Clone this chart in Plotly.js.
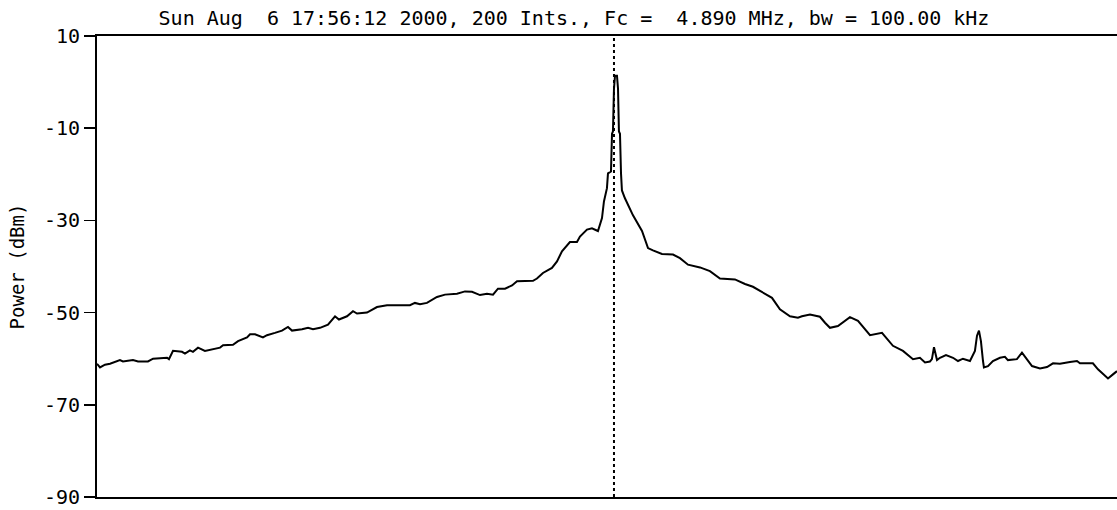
<!DOCTYPE html>
<html>
<head>
<meta charset="utf-8">
<script src="https://cdn.plot.ly/plotly-3.0.1.min.js"></script>
<style>html,body{margin:0;padding:0;background:#fff;}#chart{width:1117px;height:510px;}</style>
</head>
<body>
<div id="chart"></div>
<script>
// Frequency offset from Fc (kHz) and measured power (dBm)
const freqOffsetKHz = [
  -50.00, -49.71, -49.23, -48.74, -47.78, -47.49, -46.52, -46.03, -45.07, -44.58,
  -43.23, -43.04, -42.65, -41.78, -41.49, -41.01, -40.72, -40.23, -39.56, -38.78,
  -38.10, -37.81, -36.85, -36.36, -35.49, -35.20, -34.72, -33.95, -33.56, -32.79,
  -32.11, -31.53, -31.14, -30.17, -29.59, -29.11, -28.43, -27.66, -26.98, -26.60,
  -25.82, -25.24, -24.85, -23.89, -22.92, -21.95, -19.73, -19.25, -18.76, -18.09,
  -17.12, -16.34, -15.18, -14.41, -13.73, -12.96, -12.28, -11.70, -11.22, -10.54,
  -9.86, -9.38, -7.83, -7.45, -6.87, -6.00, -5.51, -5.03, -4.26, -3.58,
  -3.29, -2.61, -2.13, -1.55, -1.16, -0.97, -0.68, -0.58, -0.29, -0.19,
  -0.10, 0.00, 0.10, 0.29, 0.39, 0.48, 0.58, 0.68, 0.77, 1.06,
  1.84, 2.71, 3.29, 3.77, 4.64, 5.71, 6.38, 7.16, 8.32, 9.28,
  10.25, 11.70, 12.67, 13.44, 14.41, 15.28, 16.05, 17.02, 17.79, 18.18,
  18.96, 19.92, 20.41, 20.89, 21.66, 22.82, 23.60, 24.76, 25.92, 26.98,
  27.95, 28.92, 29.59, 30.08, 30.56, 30.75, 30.95, 31.24, 31.53, 32.11,
  32.79, 33.27, 33.75, 34.43, 34.91, 35.11, 35.30, 35.49, 35.69, 35.78,
  36.17, 36.65, 37.33, 37.81, 38.10, 38.97, 39.46, 39.94, 40.43, 41.20,
  41.88, 42.46, 43.13, 44.10, 44.78, 45.07, 46.32, 46.81, 47.29, 47.78,
  48.26, 48.65
];
const powerDbm = [
  -61.1, -61.9, -61.3, -61.1, -60.3, -60.6, -60.3, -60.6, -60.6, -60.0,
  -59.8, -60.1, -58.3, -58.5, -58.9, -58.2, -58.5, -57.6, -58.3, -58.0,
  -57.6, -57.1, -57.0, -56.2, -55.4, -54.7, -54.7, -55.4, -54.9, -54.4,
  -53.9, -53.1, -53.9, -53.6, -53.3, -53.6, -53.3, -52.6, -50.8, -51.5,
  -50.8, -49.7, -50.2, -50.0, -48.8, -48.4, -48.4, -47.9, -48.2, -47.9,
  -46.6, -46.1, -45.9, -45.4, -45.5, -46.2, -45.9, -46.1, -44.8, -44.8,
  -44.1, -43.2, -43.1, -42.6, -41.4, -40.3, -38.9, -36.7, -34.7, -34.7,
  -33.5, -32.0, -31.7, -32.3, -29.5, -25.9, -23.0, -19.8, -19.4, -11.2,
  -10.7, -1.4, 1.4, 1.4, -1.4, -10.7, -11.2, -19.8, -23.5, -25.2,
  -28.9, -32.3, -36.0, -36.5, -37.3, -37.4, -38.2, -39.6, -40.2, -41.0,
  -42.6, -42.8, -43.8, -44.4, -45.7, -46.8, -49.3, -50.8, -51.1, -50.8,
  -50.4, -50.9, -52.2, -53.3, -52.9, -51.0, -51.8, -54.9, -54.4, -57.2,
  -58.3, -60.1, -59.8, -60.8, -60.6, -60.1, -57.5, -60.3, -59.8, -59.2,
  -59.8, -60.5, -60.0, -60.5, -58.3, -55.0, -53.9, -56.2, -60.5, -61.9,
  -61.6, -60.5, -59.8, -59.6, -60.3, -60.1, -58.7, -60.1, -61.6, -62.1,
  -61.8, -61.0, -61.1, -60.7, -60.5, -61.0, -61.0, -62.3, -63.2, -64.3,
  -63.4, -62.7
];
// Centre-frequency marker (dotted line) and its vertical extent
const centreMarkerKHz = [0, 0];
const centreMarkerDbm = [-90, 10];
const yTickValues = [10, -10, -30, -50, -70, -90];
const yTickLabels = ['10', '-10', '-30', '-50', '-70', '-90'];
const xRange = [-50, 48.65];
const yRange = [-90, 10];
const chartTitle = 'Sun Aug\u00A0 6 17:56:12 2000, 200 Ints., Fc =\u00A0 4.890 MHz, bw = 100.00 kHz';
const yAxisTitle = 'Power (dBm)';

const FONT = '"DejaVu Sans Mono", "Liberation Mono", monospace';

const traces = [
  {
    x: centreMarkerKHz, y: centreMarkerDbm, mode: 'lines', type: 'scatter',
    line: {color: '#000', width: 2, dash: 'dot'}, hoverinfo: 'skip', showlegend: false
  },
  {
    x: freqOffsetKHz, y: powerDbm, mode: 'lines', type: 'scatter',
    line: {color: '#000', width: 2, shape: 'linear'}, showlegend: false
  }
];

const layout = {
  width: 1117, height: 510,
  margin: {l: 97, r: 0, t: 36, b: 13, pad: 0},
  paper_bgcolor: '#fff', plot_bgcolor: '#fff',
  font: {family: FONT, size: 20, color: '#000'},
  title: {
    text: chartTitle, font: {family: FONT, size: 20, color: '#000'},
    x: 574 / 1117, xref: 'container', xanchor: 'center',
    y: 1 - 18 / 510, yref: 'container', yanchor: 'middle'
  },
  xaxis: {
    range: xRange, showgrid: false, zeroline: false,
    showline: true, mirror: true, linecolor: '#000', linewidth: 2,
    showticklabels: false, ticks: ''
  },
  yaxis: {
    range: yRange, showgrid: false, zeroline: false,
    showline: true, linecolor: '#000', linewidth: 2,
    tickmode: 'array', tickvals: yTickValues, ticktext: yTickLabels,
    ticks: 'outside', ticklen: 11, tickwidth: 1.5, tickcolor: '#000',
    ticklabeloverflow: 'allow',
    tickfont: {family: FONT, size: 20, color: '#000'},
    title: {text: yAxisTitle, font: {family: FONT, size: 19, color: '#000'}, standoff: 14}
  }
};

Plotly.newPlot('chart', traces, layout, {staticPlot: true, displayModeBar: false});
</script>
</body>
</html>
